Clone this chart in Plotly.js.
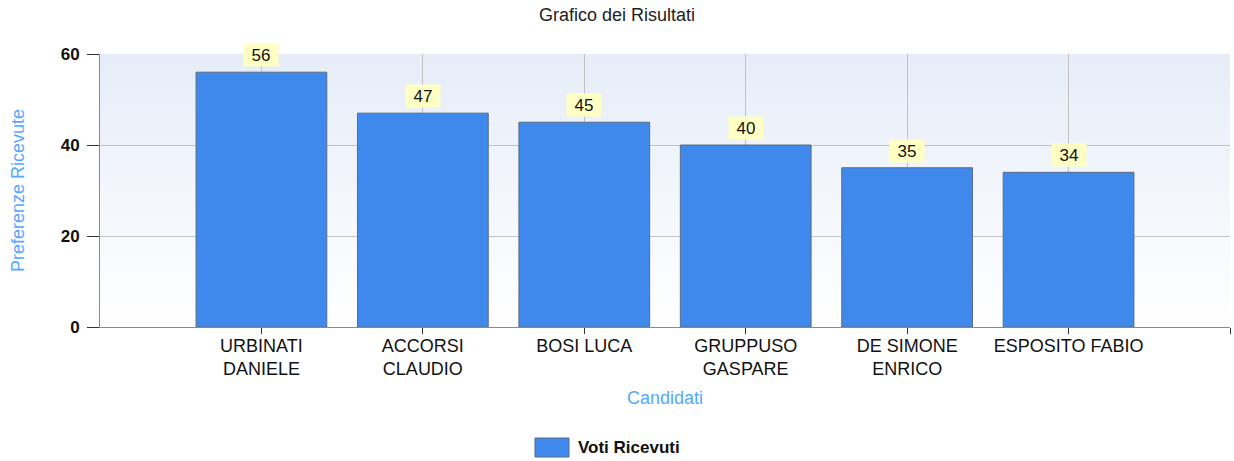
<!DOCTYPE html>
<html>
<head>
<meta charset="utf-8">
<script src="https://cdn.plot.ly/plotly-3.0.1.min.js"></script>
<style>html,body{margin:0;padding:0;background:#fff;}#chart{width:1234px;height:461px;}</style>
</head>
<body>
<div id="chart"></div>
<script>
const categories = ["URBINATI<br>DANIELE", "ACCORSI<br>CLAUDIO", "BOSI LUCA", "GRUPPUSO<br>GASPARE", "DE SIMONE<br>ENRICO", "ESPOSITO FABIO"];
const votes = [56, 47, 45, 40, 35, 34];
const seriesName = "Voti Ricevuti";
const yTicks = [0, 20, 40, 60];

const idx = categories.map((_, i) => i);
const font = "Liberation Sans, Arial, sans-serif";
const barColor = '#3f89ec';
const barLine = '#5a6d86';

const gradSvg = '<svg xmlns="http://www.w3.org/2000/svg" width="10" height="100" preserveAspectRatio="none">' +
  '<defs><linearGradient id="g" x1="0" y1="0" x2="0" y2="1"><stop offset="0" stop-color="#e6edf8"/><stop offset="1" stop-color="#ffffff"/></linearGradient></defs>' +
  '<rect width="10" height="100" fill="url(#g)"/></svg>';
const gradUrl = 'data:image/svg+xml;base64,' + btoa(gradSvg);

const trace = {
  type: 'bar',
  x: idx,
  y: votes,
  name: seriesName,
  width: 0.81,
  marker: {color: barColor, line: {color: barLine, width: 1}},
  hoverinfo: 'x+y',
  showlegend: false
};

const annotations = votes.map((v, i) => ({
  x: i, y: v, xref: 'x', yref: 'y',
  text: String(v), showarrow: false,
  yanchor: 'bottom', yshift: 5,
  bgcolor: '#ffffc4', width: 34, height: 22, borderpad: 0,
  font: {family: font, size: 17, color: '#111'}
}));
// legend entry (text)
annotations.push({
  xref: 'paper', yref: 'paper', x: (576 - 100) / 1130, y: (327 - 447) / 273,
  xanchor: 'left', yanchor: 'middle', showarrow: false,
  text: '<b>' + seriesName + '</b>',
  font: {family: font, size: 17, color: '#111'}
});

const tickvals = idx.concat([idx.length]);
const ticktext = categories.concat(['']);

const layout = {
  width: 1234, height: 461,
  margin: {l: 100, r: 4, t: 54, b: 134},
  paper_bgcolor: '#ffffff',
  plot_bgcolor: 'rgba(0,0,0,0)',
  font: {family: font, size: 18, color: '#111'},
  title: {text: 'Grafico dei Risultati', x: 0.5, xref: 'container', y: 1 - 15/461, yref: 'container', yanchor: 'middle', font: {family: font, size: 18, color: '#222'}},
  images: [{source: gradUrl, xref: 'paper', yref: 'paper', x: 0, y: 1, sizex: 1, sizey: 1, sizing: 'stretch', xanchor: 'left', yanchor: 'top', layer: 'below'}],
  shapes: [{
    type: 'rect', xref: 'paper', yref: 'paper',
    x0: (535 - 100) / 1130, x1: (569 - 100) / 1130,
    y0: (327 - 438) / 273, y1: (327 - 457) / 273,
    fillcolor: barColor, line: {color: barLine, width: 1}
  }],
  xaxis: {
    range: [-1, categories.length],
    tickvals: tickvals, ticktext: ticktext,
    automargin: false,
    showgrid: true, gridcolor: '#c2c2c2', gridwidth: 1,
    zeroline: false,
    showline: true, linecolor: '#8a8a8a', linewidth: 1,
    ticks: 'outside', ticklen: 6, tickcolor: '#333', tickwidth: 1,
    ticklabelstandoff: -4,
    tickfont: {family: font, size: 18, color: '#111'},
    title: {text: 'Candidati', standoff: 13, font: {family: font, size: 18, color: '#55a8ff'}},
    fixedrange: true
  },
  yaxis: {
    range: [0, 60],
    tickvals: yTicks,
    automargin: false,
    showgrid: true, gridcolor: '#c2c2c2', gridwidth: 1,
    zeroline: false,
    showline: true, linecolor: '#8a8a8a', linewidth: 1,
    ticks: 'outside', ticklen: 12, tickcolor: '#333', tickwidth: 1,
    ticklabelstandoff: 4,
    tickfont: {family: font, size: 17, color: '#111', weight: 'bold'},
    title: {text: 'Preferenze Ricevute', standoff: 31, font: {family: font, size: 18, color: '#55a8ff'}},
    fixedrange: true
  },
  showlegend: false,
  annotations: annotations,
  bargap: 0.19
};

Plotly.newPlot('chart', [trace], layout, {displayModeBar: false, staticPlot: true});
</script>
</body>
</html>
